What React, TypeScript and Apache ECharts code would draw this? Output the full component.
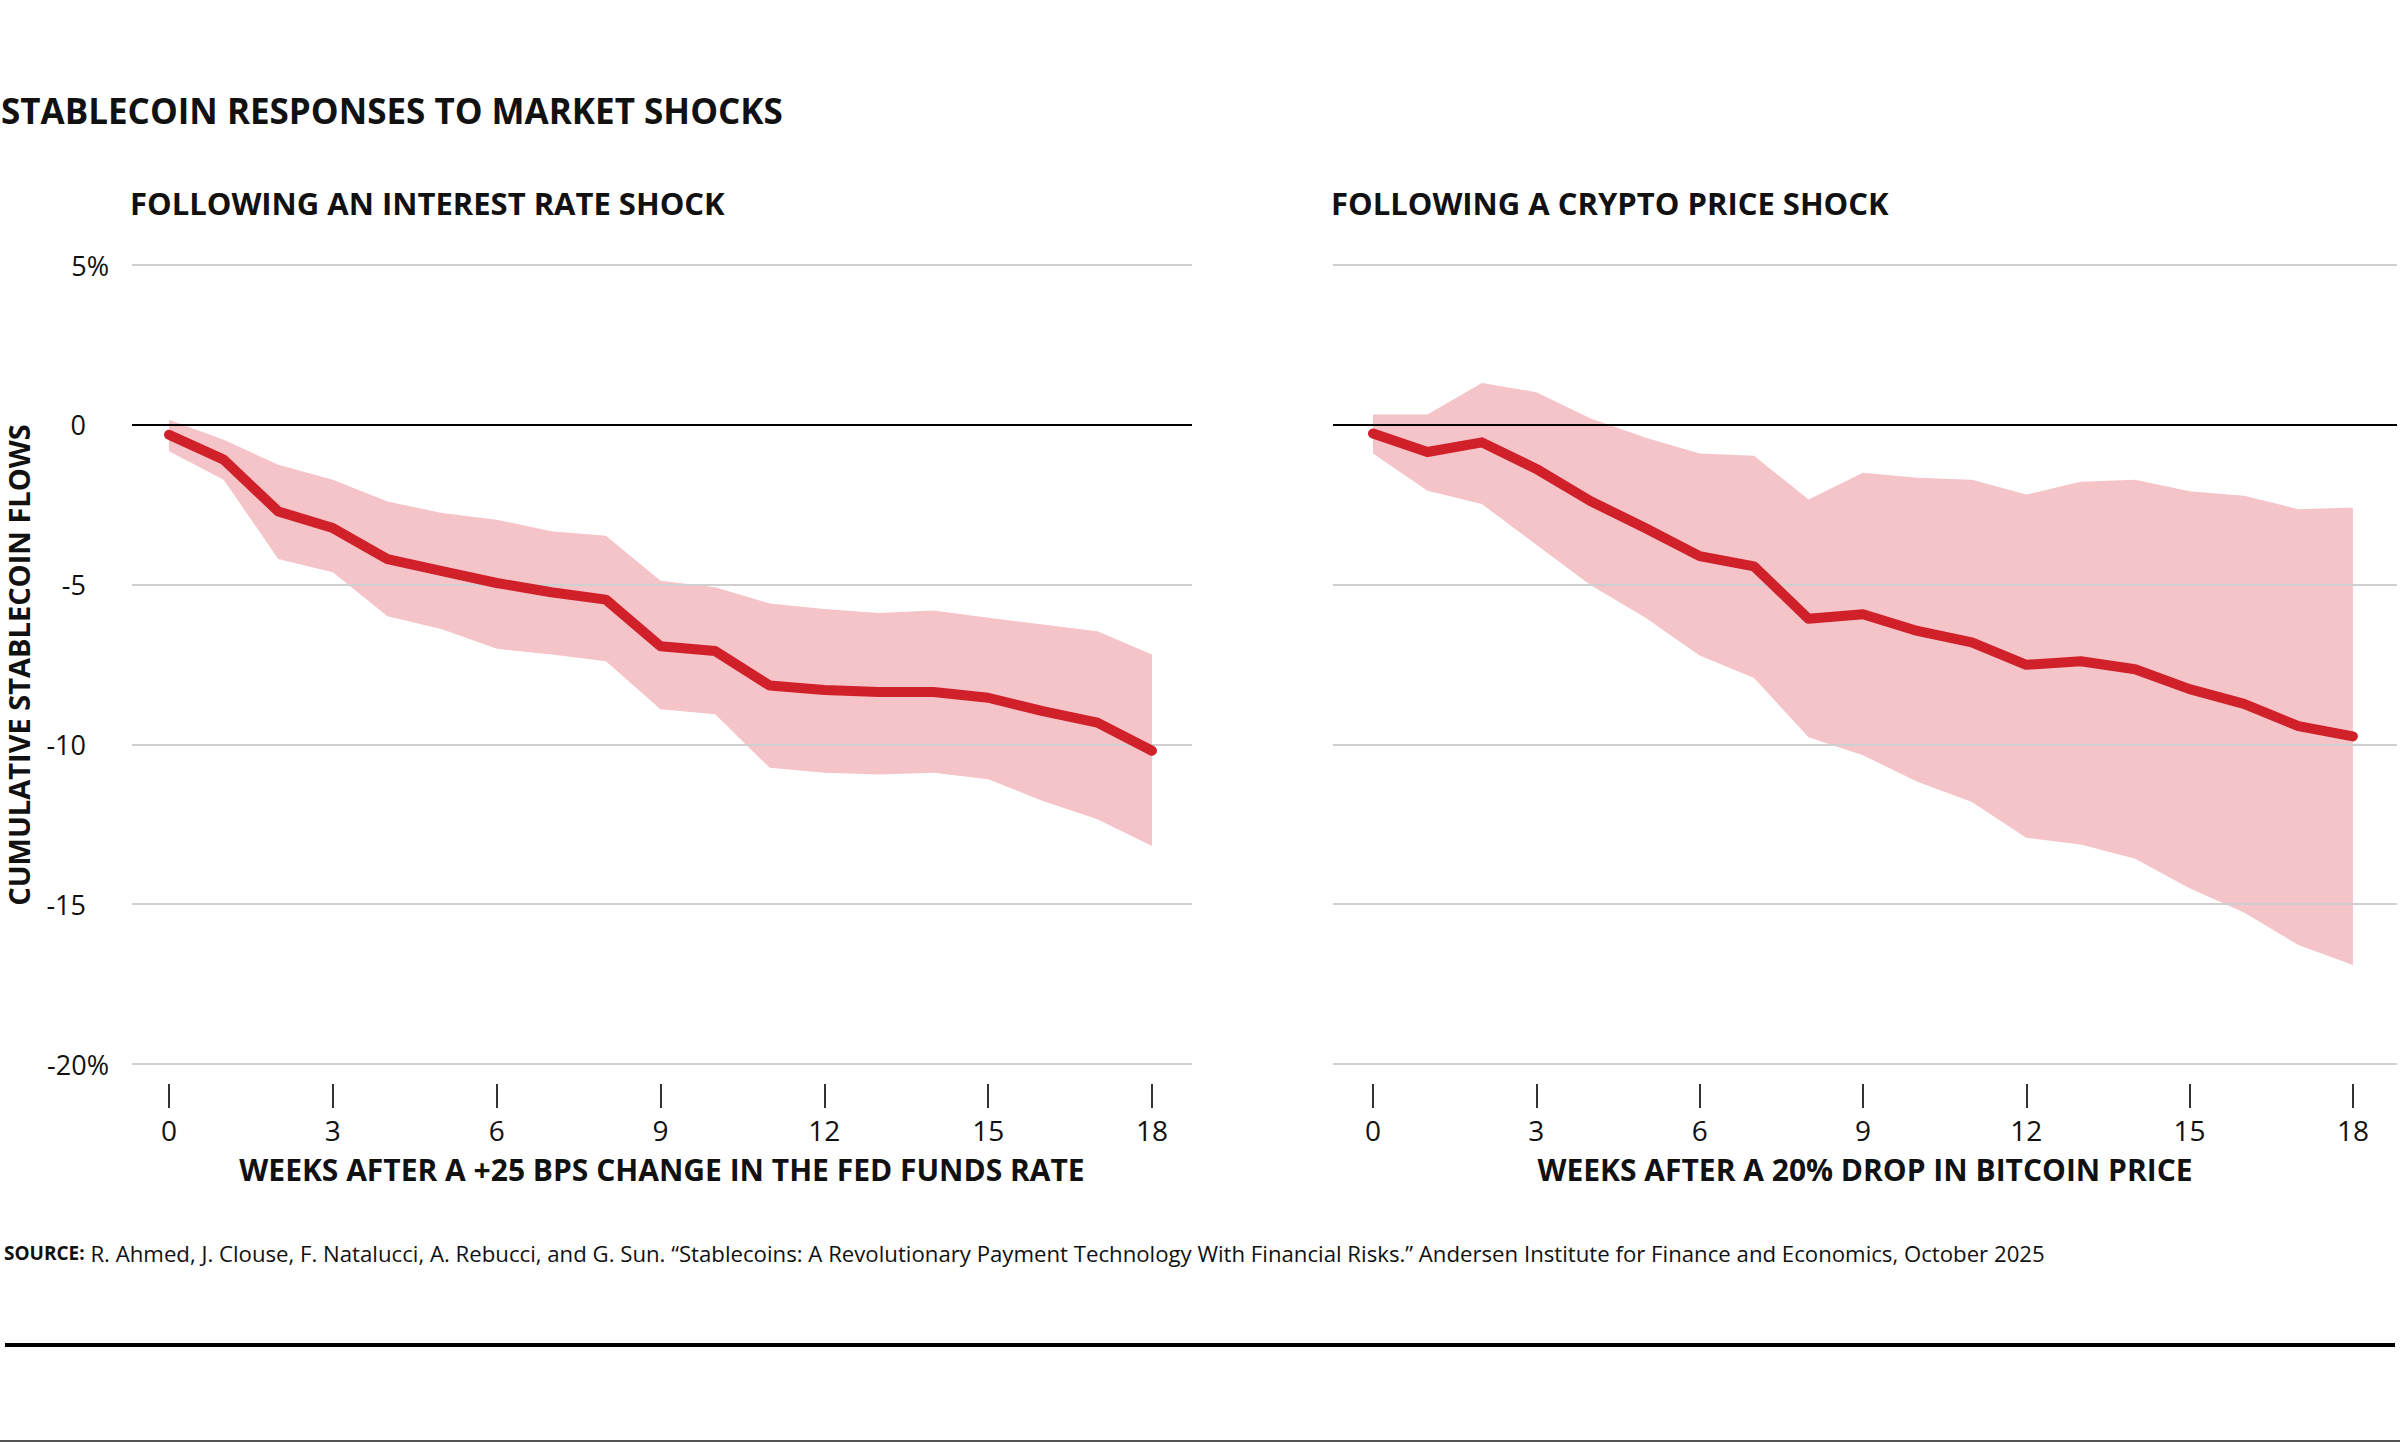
import React, { useEffect, useRef } from 'react';
import * as echarts from 'echarts';

// ---------- data ----------
const weeks = [0, 1, 2, 3, 4, 5, 6, 7, 8, 9, 10, 11, 12, 13, 14, 15, 16, 17, 18];
const weekTicks = [0, 3, 6, 9, 12, 15, 18];

const rateMid = [-0.31, -1.09, -2.71, -3.23, -4.2, -4.58, -4.95, -5.24, -5.47, -6.93, -7.08, -8.16, -8.3, -8.36, -8.36, -8.54, -8.96, -9.32, -10.2];
const rateUpper = [0.16, -0.47, -1.25, -1.72, -2.4, -2.76, -2.97, -3.33, -3.47, -4.88, -5.08, -5.59, -5.76, -5.89, -5.81, -6.04, -6.25, -6.46, -7.19];
const rateLower = [-0.83, -1.72, -4.2, -4.61, -5.99, -6.4, -7.01, -7.19, -7.4, -8.9, -9.06, -10.73, -10.89, -10.94, -10.89, -11.09, -11.77, -12.34, -13.18];

const cryptoMid = [-0.27, -0.85, -0.55, -1.38, -2.39, -3.23, -4.11, -4.43, -6.07, -5.93, -6.45, -6.81, -7.51, -7.4, -7.65, -8.27, -8.73, -9.43, -9.75];
const cryptoUpper = [0.32, 0.32, 1.31, 1.02, 0.2, -0.4, -0.9, -0.97, -2.34, -1.5, -1.66, -1.72, -2.18, -1.78, -1.72, -2.08, -2.22, -2.64, -2.59];
const cryptoLower = [-0.9, -2.06, -2.48, -3.75, -5.02, -6.03, -7.22, -7.92, -9.78, -10.34, -11.17, -11.8, -12.92, -13.13, -13.58, -14.5, -15.26, -16.28, -16.9];

const yMin = -20;
const yMax = 5;
const yStep = 5;

const mainTitle = 'STABLECOIN RESPONSES TO MARKET SHOCKS';
const leftTitle = 'FOLLOWING AN INTEREST RATE SHOCK';
const rightTitle = 'FOLLOWING A CRYPTO PRICE SHOCK';
const yTitle = 'CUMULATIVE STABLECOIN FLOWS';
const leftXTitle = 'WEEKS AFTER A +25 BPS CHANGE IN THE FED FUNDS RATE';
const rightXTitle = 'WEEKS AFTER A 20% DROP IN BITCOIN PRICE';
const sourceLabel = 'SOURCE:';
const sourceText =
  ' R. Ahmed, J. Clouse, F. Natalucci, A. Rebucci, and G. Sun. \u201CStablecoins: A Revolutionary Payment Technology With Financial Risks.\u201D Andersen Institute for Finance and Economics, October 2025';

// ---------- styles ----------
const FONT = "'Open Sans', 'Noto Sans', sans-serif";
const RED = '#D0202A';
const PINK = '#F5C4C8';
const GRID_GRAY = '#cfcfcf';

const pairs = (ys: number[]) => weeks.map((w, i) => [w, ys[i]]);

function panelSeries(idx: number, mid: number[], up: number[], lo: number[]) {
  return [
    {
      type: 'custom',
      xAxisIndex: idx,
      yAxisIndex: idx,
      data: weeks.map((w, i) => [w, up[i], lo[i]]),
      encode: { x: 0, y: [1, 2] },
      silent: true,
      z: 1,
      renderItem: (params: any, api: any) => {
        if (params.dataIndex !== 0) return null;
        const pts: number[][] = [];
        for (let i = 0; i < weeks.length; i++) pts.push(api.coord([weeks[i], up[i]]));
        for (let i = weeks.length - 1; i >= 0; i--) pts.push(api.coord([weeks[i], lo[i]]));
        return { type: 'polygon', shape: { points: pts }, style: { fill: PINK } };
      },
    },
    {
      type: 'line',
      xAxisIndex: idx,
      yAxisIndex: idx,
      data: pairs(mid),
      symbol: 'none',
      lineStyle: { width: 10, color: RED, cap: 'round', join: 'round' },
      z: 5,
    },
  ];
}

function splitColors() {
  const arr: string[] = [];
  for (let v = yMin; v <= yMax; v += yStep) arr.push(v === 0 ? '#000000' : GRID_GRAY);
  return arr;
}

function xAxisFor(idx: number, min: number, max: number, name: string) {
  return {
    type: 'value',
    gridIndex: idx,
    min,
    max,
    offset: 20,
    axisLine: { show: false, onZero: false },
    splitLine: { show: false },
    axisTick: {
      show: true,
      customValues: weekTicks,
      length: 24,
      lineStyle: { color: '#333', width: 2 },
    },
    axisLabel: {
      customValues: weekTicks,
      margin: 32,
      fontSize: 28,
      color: '#111',
      fontFamily: FONT,
    },
    name,
    nameLocation: 'middle',
    nameGap: 70,
    nameTextStyle: { fontSize: 30, fontWeight: 'bold', color: '#111', fontFamily: FONT },
  };
}

function yAxisFor(idx: number, showLabels: boolean) {
  return {
    type: 'value',
    gridIndex: idx,
    min: yMin,
    max: yMax,
    interval: yStep,
    z: 3,
    axisLine: { show: false },
    axisTick: { show: false },
    splitLine: { show: true, lineStyle: { color: splitColors(), width: 2 } },
    axisLabel: {
      show: showLabels,
      margin: 23,
      align: 'right',
      formatter: (v: number) => (v === yMax || v === yMin ? `{b|${v}%}` : `{a|${v}}`),
      rich: {
        a: { fontSize: 27, color: '#111', fontFamily: FONT, padding: [0, 23, 0, 0] },
        b: { fontSize: 27, color: '#111', fontFamily: FONT },
      },
    },
  };
}

export default function App() {
  const ref = useRef<HTMLDivElement>(null);

  useEffect(() => {
    document.body.style.margin = '0';
    const chart = echarts.init(ref.current as HTMLDivElement, null, { renderer: 'svg' });
    const option = {
      animation: false,
      backgroundColor: '#ffffff',
      textStyle: { fontFamily: FONT },
      grid: [
        { left: 132, top: 265, width: 1060, height: 799 },
        { left: 1333, top: 265, width: 1064, height: 799 },
      ],
      xAxis: [xAxisFor(0, -0.678, 18.733, leftXTitle), xAxisFor(1, -0.735, 18.81, rightXTitle)],
      yAxis: [yAxisFor(0, true), yAxisFor(1, false)],
      series: [
        ...panelSeries(0, rateMid, rateUpper, rateLower),
        ...panelSeries(1, cryptoMid, cryptoUpper, cryptoLower),
      ],
      graphic: [
        {
          type: 'text',
          x: 1,
          y: 110,
          style: { text: mainTitle, font: `bold 35px ${FONT}`, fill: '#111', textVerticalAlign: 'middle' },
        },
        {
          type: 'text',
          x: 130,
          y: 203,
          style: { text: leftTitle, font: `bold 31px ${FONT}`, fill: '#111', textVerticalAlign: 'middle' },
        },
        {
          type: 'text',
          x: 1331,
          y: 203,
          style: { text: rightTitle, font: `bold 31px ${FONT}`, fill: '#111', textVerticalAlign: 'middle' },
        },
        {
          type: 'text',
          x: 18,
          y: 665,
          rotation: Math.PI / 2,
          style: {
            text: yTitle,
            font: `bold 29px ${FONT}`,
            fill: '#111',
            textAlign: 'center',
            textVerticalAlign: 'middle',
          },
        },
        {
          type: 'text',
          x: 4,
          y: 1253,
          style: {
            text: `{b|${sourceLabel}}{r|${sourceText}}`,
            textVerticalAlign: 'middle',
            rich: {
              b: { font: `bold 19px ${FONT}`, fill: '#111' },
              r: { font: `22.2px ${FONT}`, fill: '#111' },
            },
          },
        },
        {
          type: 'line',
          shape: { x1: 5, y1: 1345, x2: 2395, y2: 1345 },
          style: { stroke: '#000', lineWidth: 4 },
        },
        {
          type: 'line',
          shape: { x1: 0, y1: 1441, x2: 2400, y2: 1441 },
          style: { stroke: '#555', lineWidth: 2 },
        },
      ],
    };
    chart.setOption(option as any);
    return () => chart.dispose();
  }, []);

  return <div ref={ref} style={{ width: 2400, height: 1443 }} />;
}
